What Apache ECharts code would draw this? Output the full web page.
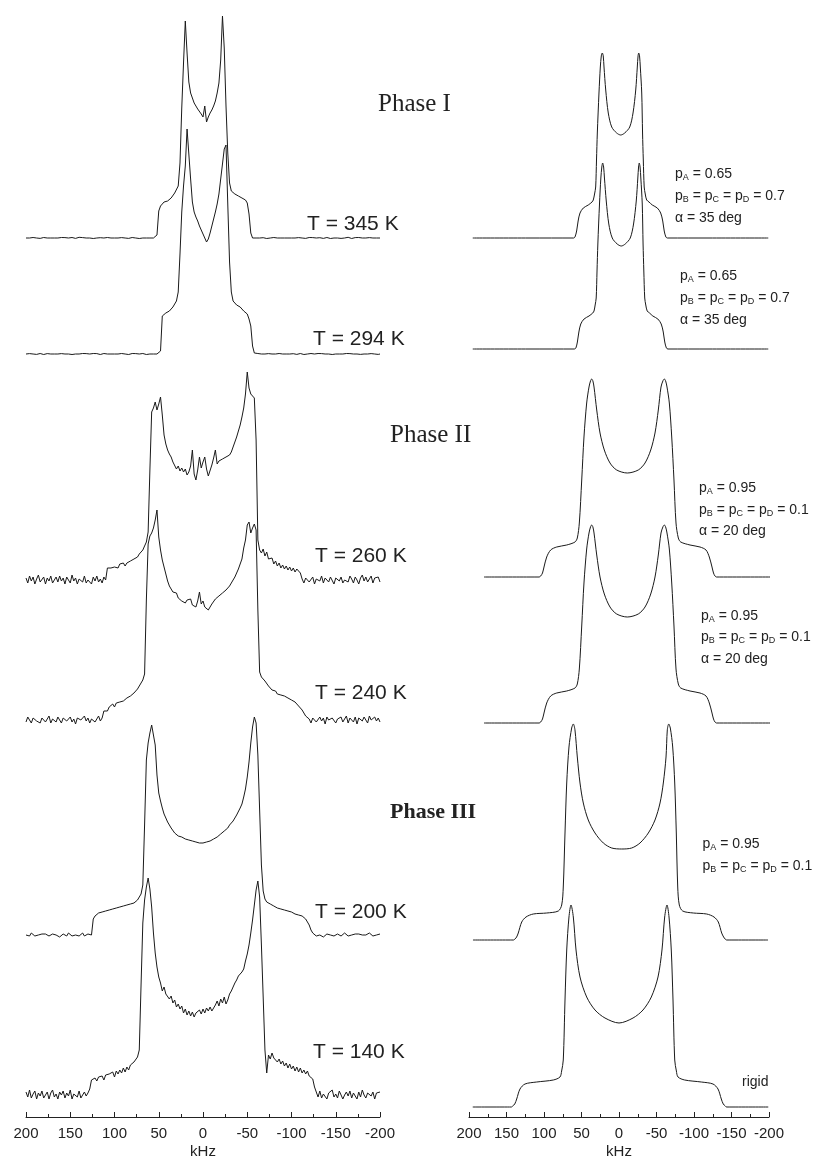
<!DOCTYPE html>
<html>
<head>
<meta charset="utf-8">
<title>2H NMR spectra</title>
<script src="https://cdn.jsdelivr.net/npm/echarts/dist/echarts.min.js"></script>
<style>
html,body{margin:0;padding:0;background:#ffffff;}
#chart{width:831px;height:1160px;}
</style>
</head>
<body>
<div id="chart"></div>
<script>
// ---------- DATA ----------
// frequency grid (kHz) of the experimental spectra
const freqGrid = [
200,198,196,194,192,190,188,186,184,182,
180,178,176,174,172,170,168,166,164,162,
160,158,156,154,152,150,148,146,144,142,
140,138,136,134,132,130,128,126,124,122,
120,118,116,114,112,110,108,106,104,102,
100,98,96,94,92,90,88,86,84,82,
80,78,76,74,72,70,68,66,64,62,
60,58,56,54,52,50,48,46,44,42,
40,38,36,34,32,30,28,26,24,22,
20,18,16,14,12,10,8,6,4,2,
0,
-2,-4,-6,-8,-10,-12,-14,-16,-18,-20,
-22,-24,-26,-28,-30,-32,-34,-36,-38,-40,
-42,-44,-46,-48,-50,-52,-54,-56,-58,-60,
-62,-64,-66,-68,-70,-72,-74,-76,-78,-80,
-82,-84,-86,-88,-90,-92,-94,-96,-98,-100,
-102,-104,-106,-108,-110,-112,-114,-116,-118,-120,
-122,-124,-126,-128,-130,-132,-134,-136,-138,-140,
-142,-144,-146,-148,-150,-152,-154,-156,-158,-160,
-162,-164,-166,-168,-170,-172,-174,-176,-178,-180,
-182,-184,-186,-188,-190,-192,-194,-196,-198,-200
];

// experimental intensities (a.u.) on freqGrid
const exp345 = [
0,0.5,0,-0.5,0.5,0,0,0.6,-0.4,0, 0.5,0.3,0,-0.5,0,0.4,0,0.7,0,-0.4, 0.5,0,0.4,-0.5,0,0,0.5,0,-0.4,0.5, 0.7,0,0.4,-0.5,0,0.5,0,0,-0.5,0.4, 0,0.5,0.3,-0.5,0,0,0.5,0.7,0,-0.4, 0,0.5,0,-0.5,0.4,0,0,0.5,-0.4,0, 0.5,0,0,0.4,-0.5,0.5,0,-0.4,0,0.5, 0,0.4,0,-0.5,
3,27,32,34,36,35,37,39,40,42, 45,47,52,75,130,175,217,185,156,145, 140,135,132,129,127,124,121,132,116,121, 125,128,132,137,145,155,178,222,190,132, 85,55,47,45,44,43,42,41,40,39, 38,35,24,5,0,
0.5,0,-0.4,0,0.5,0.3,0,-0.5,0.4,0, 0,0.5,-0.4,0,0.5,0,0.7,0,-0.5,0, 0.4,0,0.5,0,-0.5,0.4,0,0,0.5,-0.4, 0,0.5,0,0.4,-0.5,0,0.5,0.3,0,-0.4, 0,0.5,0,-0.5,0.4,0,0.5,0,0,-0.4, 0.5,0,0.4,0.7,0,-0.5,0,0.4,0,0.5, -0.4,0,0.5,0,0,0.4,-0.5,0,0.5,0, 0.4,0
];
const exp294 = [
0,-0.5,0.4,0,0,0.5,-0.4,0,0.5,0, -0.5,0,0.4,0.5,0,-0.4,0,0.5,0,0, 0.4,-0.5,0,0.5,0,0.4,-0.5,0,0,0.5, 0,-0.4,0.5,0,0.4,0,0,-0.5,0.5,0, 0.4,0,-0.5,0,0.5,0.3,0,-0.4,0,0.5, 0,0.4,0,-0.5,0.5,0,0,0.4,-0.5,0, 0.5,0,0.4,-0.4,0,0,0.5,0,-0.5,0.4, 0,0.5,0,-0.4,0,0.5,
3,38,40,41,42,43,45,47,49,53, 62,100,142,168,188,225,200,175,152,142, 137,133,128,124,120,116,112,115,121,128, 135,142,150,160,175,190,205,209,150,92, 62,53,51,49,48,47,45,43,42,40, 35,28,8,1,
0,0.5,-0.4,0,0.5,0,0,0.4,-0.5,0, 0.5,0,-0.4,0.5,0,0,0.4,0,-0.5,0, 0.5,0.3,0,-0.4,0,0.5,0,-0.5,0.4,0, 0,0.5,-0.4,0,0,0.5,0,0.4,-0.5,0, 0.4,0,0,-0.5,0.5,0,0.4,0,-0.4,0, 0,0.5,0,0.4,-0.5,0,0.5,0,0,-0.4, 0.5,0,0.4,0,-0.5,0.4,0,0,0.5,-0.4, 0
];
const exp260 = [
2,-3,4,-1,3,-4,1,5,-2,0, 3,-4,2,-1,4,-3,0,3,-2,4, -1,2,-4,3,0,-3,5,-1,2,-4, 1,3,-2,4,-3,0,2,-4,3,-1, 4,-2,1,-3,3,0,
12,13,12,14,13,15,12,16,14,17, 14,17,15,19,17,21,19,23,26,28, 30,34,38,48,110,168,172,178,170,176, 183,165,145,136,130,126,123,118,116,111, 114,109,112,108,111,105,108,114,130,106, 100,110,123,112,118,123,111,104,102,115, 122,130,116,119,117,121,119,123,121,125, 128,133,138,143,149,155,163,172,186,208, 192,186,184,182,140,40,30,27,31,24, 28,21,19,22,16,19,14,17,12,15, 11,14,10,13,9,12,8,11,9,7, 1,
-3,2,4,-2,0,3,-4,1,3,-1, 4,-3,2,0,-2,3,1,-4,2,4, -1,3,-3,0,2,-2,4,1,-3,3, 0,-4,2,5,-1,3,-2,1,4,-3, 2,0,3,-2
];
const exp240 = [
-2,3,0,-3,2,4,-1,1,-3,2, 3,-2,0,4,-3,1,2,-2,3,0, -3,2,4,-1,0,3,-2,1,-4,2, 3,0,-2,4,-1,2,-3,1,3,-2, 0,4,-1,2,
9,11,9,13,12,16,13,17,15,18, 16,19,18,22,20,24,23,27,26,31, 32,37,40,46,120,176,184,187,192,200, 210,183,170,160,153,146,139,134,131,128, 126,127,122,124,119,121,117,120,118,121, 115,117,113,119,128,116,119,113,115,110, 111,116,118,121,119,124,123,127,126,130, 131,134,137,140,143,147,151,156,161,172, 180,195,198,187,192,196,190,110,48,43, 45,39,37,34,32,30,28,29,26,27, 25,26,24,25,22,23,20,21,18,17, 14,13,10,8,4,2,
1,-3,2,4,-2,0,3,-1,2,-4, 3,0,-2,2,4,-3,1,-1,3,-2, 0,4,-3,2,1,-2,3,-4,2,0, -1,3,2,-3,4,0,-2,3,-1,2, -2
];
const exp200 = [
0,1,-1,2,0,-1,1,0,-2,1, 0,1,2,-1,0,1,-1,0,1,-2, 0,1,0,-1,2,0,-1,1,0,1, -1,0,2,-1,0,1,-1,0,
16,19,20,22,21,23,22,24,23,25, 24,26,25,27,26,28,27,29,28,30, 29,31,30,32,33,35,37,41,50,110, 175,192,202,210,212,190,160,142,134,127, 121,117,113,111,107,105,102,101,99,98, 98,96,96,94,95,93,94,92,93,91, 92,91,92,91,93,92,94,95,96,98, 98,100,101,103,104,106,107,110,111,114, 116,120,122,127,131,138,146,158,173,192, 208,218,212,180,125,70,44,36,33,32, 31,29,29,27,27,25,26,24,25,23, 24,22,23,21,21,20,20,18,19,17, 16,14,10,5,2,
0,-1,1,0,1,-2,0,1,-1,0, 2,-1,0,1,0,-1,1,2,0,-1, 1,0,-2,1,0,1,-1,0,1,0, -1,2,0,-1,1,0,-1,1
];
const exp140 = [
3,-2,5,-3,1,4,-4,2,-1,4, -3,0,3,-4,2,5,-2,1,-4,3, 0,4,-3,2,-1,5,-4,1,3,-2, 4,-3,0,3,-1,2,
6,15,13,17,14,18,16,19,15,20, 18,21,19,23,18,24,21,25,22,27, 23,28,25,30,28,33,35,38,45,110, 172,195,208,217,206,188,162,142,128,118, 112,104,108,101,103,96,99,92,95,88, 91,86,89,82,86,80,84,79,83,78, 82,80,85,81,86,82,87,84,88,84, 82,90,94,89,96,92,98,91,95,101, 104,108,112,115,119,117,123,126,134,141, 150,162,175,190,205,214,198,150,98,45, 22,40,36,42,37,39,33,36,31,34, 29,32,27,31,26,29,24,28,23,27, 22,25,21,24,19,21,16,8,3,
-2,4,-3,1,3,-4,2,0,5,-2, 1,-3,4,2,-4,0,3,-1,4,-3, 2,1,-4,3,-2,5,0,-3,2,4, -1,3,-4,2,0,3
];

// simulated spectra: [kHz, intensity]
const sim345 = [[195,0],[120,0],[60.5,0],[58.7,1],[56.5,7],[54.5,17],[52,25],[47.6,30],[41,33],[36,36],[34.3,38],[32.6,44],[31.1,51],[30,78],[28.9,105],[26.7,145],[24.9,171],[23.6,182],[22.3,185],[21,182],[20,171],[17.7,148],[14.3,125],[9.7,111],[3.1,105],[-2.3,103],[-7.6,105],[-14.3,111],[-18.7,125],[-22.3,148],[-24.4,171],[-25.4,182],[-26.3,185],[-27.4,182],[-28.4,171],[-30.3,145],[-31.4,105],[-32.4,78],[-33.6,51],[-35,44],[-36.9,38],[-40,36],[-44.4,33],[-51.1,30],[-55.6,25],[-58.3,17],[-60.3,7],[-62.5,1],[-64.5,0],[-120,0],[-199,0]];
const sim294 = [[195,0],[120,0],[59.5,0],[57.5,1],[55.5,7],[53.5,17],[51,25],[46.6,30],[40,33],[35,36],[33.3,38],[31.8,44],[30.4,51],[29.3,78],[28.2,105],[26,145],[24.2,171],[22.9,182],[21.8,186],[20.5,182],[19.4,171],[17,148],[13.6,125],[9,111],[2.4,105],[-3,103],[-8.3,105],[-15,111],[-19.4,125],[-23,148],[-25.1,171],[-26.1,182],[-27,186],[-28.1,182],[-29.1,171],[-31,145],[-32.1,105],[-33.1,78],[-34.3,51],[-35.7,44],[-37.6,38],[-40.7,36],[-45.1,33],[-51.8,30],[-56.3,25],[-59,17],[-61,7],[-63.2,1],[-65.2,0],[-120,0],[-199,0]];
const sim260 = [[180,0],[120,0],[106.5,0],[104.4,1],[102,4],[100,10],[96.4,20],[91.1,27],[83.1,30],[69.7,32],[58.7,35],[55.6,39],[52.9,54],[49.7,97],[46.7,140],[43.1,174],[40,190],[38,196],[36.4,198],[34.8,196],[33.3,190],[29.7,167],[25.3,144],[19.6,127],[12,114],[3.1,107],[-11.1,104],[-25.7,107],[-34.7,114],[-42.3,127],[-48,144],[-52.4,167],[-56,190],[-58.5,196],[-60.4,198],[-62.2,196],[-64,190],[-67.1,174],[-70.3,140],[-73.3,97],[-76,54],[-79.1,39],[-82.3,35],[-94.7,32],[-108,30],[-116,27],[-120.4,20],[-124,10],[-126,4],[-128,1],[-130,0],[-204,0]];
const sim240 = [[180,0],[120,0],[106.5,0],[104.4,1],[102,4],[100,10],[96.4,20],[91.1,27],[83.1,30],[69.7,32],[58.7,35],[55.6,39],[52.9,54],[49.7,97],[46.7,140],[43.1,174],[40,190],[38,196],[36.4,198],[34.8,196],[33.3,190],[29.7,168],[25.3,146],[19.6,129],[12,116],[3.1,109],[-11.1,106],[-25.7,109],[-34.7,116],[-42.3,129],[-48,146],[-52.4,168],[-56,190],[-58.5,196],[-60.4,198],[-62.2,196],[-64,190],[-67.1,174],[-70.3,140],[-73.3,97],[-76,54],[-79.1,39],[-82.3,35],[-94.7,32],[-108,30],[-116,27],[-120.4,20],[-124,10],[-126,4],[-128,1],[-130,0],[-204,0]];
const sim200 = [[194.7,0],[145,0],[140.7,0],[138.7,1],[136.5,3],[134.3,7],[129.7,18],[124,23],[114.3,26],[96.4,27],[80.9,29],[76.4,35],[74.3,53],[72,107],[69.7,157],[66.7,193],[63.1,212],[60.9,216],[58.7,210],[55.6,183],[52,157],[47.6,137],[41,120],[32,107],[20.9,97],[9.7,92],[-3.6,91],[-16.9,92],[-28,97],[-39.1,107],[-48,120],[-54.7,137],[-59.1,157],[-62.7,183],[-64.4,210],[-66.3,216],[-68.4,212],[-71.6,193],[-74.3,157],[-76.4,107],[-78.3,53],[-80.4,35],[-84.9,29],[-99.1,27],[-116.9,26],[-126.7,23],[-132.4,18],[-136.9,7],[-139.5,3],[-141.5,1],[-143.5,0],[-198.7,0]];
const simRigid = [[195,0],[146,0],[143.5,0],[141.7,1],[139,3],[136.4,8],[132,18],[125.3,23],[109.7,25],[87.6,27],[78.7,30],[76.5,36],[74.3,47],[72,107],[69.7,157],[66.7,190],[64,202],[60.9,190],[57.3,157],[52,130],[43.1,110],[32,97],[18.7,89],[0,84],[-18.7,89],[-32,97],[-43.1,110],[-52,130],[-57.3,157],[-60.9,190],[-64,202],[-66.7,190],[-69.7,157],[-72,107],[-74.3,47],[-76.5,36],[-78.7,30],[-87.6,27],[-109.7,25],[-125.3,23],[-132,18],[-136.4,8],[-139,3],[-141.7,1],[-143.5,0],[-199,0]];

// tick labels / texts
const kHzTicks = [200,150,100,50,0,-50,-100,-150,-200];
const tempLabels = ['T = 345 K','T = 294 K','T = 260 K','T = 240 K','T = 200 K','T = 140 K'];
const phaseNames = ['Phase I','Phase II','Phase III'];
const pA    = ['0.65','0.65','0.95','0.95','0.95'];
const pBCD  = ['0.7','0.7','0.1','0.1','0.1'];
const alphaDeg = ['35','35','20','20',null];
const rigidLabel = 'rigid';

// ---------- LAYOUT ----------
const COL = {L:{left:26,width:354}, R:{left:469,width:300}};
const SPAN = 230;
const zip = arr => freqGrid.map((f,i)=>[f, arr[i]]);
const panels = [
  {col:'L', base:238,  data:zip(exp345), smooth:false},
  {col:'L', base:354,  data:zip(exp294), smooth:false},
  {col:'L', base:580,  data:zip(exp260), smooth:false},
  {col:'L', base:720,  data:zip(exp240), smooth:false},
  {col:'L', base:935,  data:zip(exp200), smooth:false},
  {col:'L', base:1095, data:zip(exp140), smooth:false},
  {col:'R', base:238,  data:sim345, smooth:0.3},
  {col:'R', base:349,  data:sim294, smooth:0.3},
  {col:'R', base:577,  data:sim260, smooth:0.3},
  {col:'R', base:723,  data:sim240, smooth:0.3},
  {col:'R', base:940,  data:sim200, smooth:0.3},
  {col:'R', base:1107, data:simRigid, smooth:0.3}
];
const tempPos  = [[307,224],[313,339],[315,556],[315,693],[315,912],[313,1052]];
const phasePos = [[378,104,25,'normal'],[390,435,25,'normal'],[390,812,22,'bold']];
const paramPos = [
  {x:675, ys:[174.5,196,218]},
  {x:680, ys:[276.5,298,320]},
  {x:699, ys:[488,510.5,531.5]},
  {x:701, ys:[616,637.5,659]},
  {x:702.5, ys:[844,866]}
];
const rigidPos = [742,1082.5];

const INK = '#1a1a1a';
const SANS = '"Liberation Sans", Arial, Helvetica, sans-serif';
const SERIF = '"Liberation Serif", "Times New Roman", serif';

const grids=[], xAxes=[], yAxes=[], series=[];
panels.forEach((p,i)=>{
  grids.push({left:COL[p.col].left, width:COL[p.col].width, top:p.base-SPAN, height:SPAN, containLabel:false, outerBoundsMode:'none'});
  xAxes.push({gridIndex:i, type:'value', min:kHzTicks[kHzTicks.length-1], max:kHzTicks[0], inverse:true, show:false});
  yAxes.push({gridIndex:i, type:'value', min:0, max:SPAN, show:false});
  series.push({type:'line', xAxisIndex:i, yAxisIndex:i, data:p.data, showSymbol:false, symbol:'none',
    smooth:p.smooth, clip:false, silent:true, animation:false,
    lineStyle:{color:INK, width:1}});
});
['L','R'].forEach(c=>{
  const gi = grids.length;
  grids.push({left:COL[c].left, width:COL[c].width, top:1017, height:100, containLabel:false, outerBoundsMode:'none'});
  xAxes.push({gridIndex:gi, type:'value', min:kHzTicks[kHzTicks.length-1], max:kHzTicks[0], interval:50, inverse:true,
    axisLine:{show:true, onZero:false, lineStyle:{color:'#222', width:1}},
    axisTick:{show:true, inside:true, length:5, lineStyle:{color:'#222', width:1}},
    minorTick:{show:true, splitNumber:2, length:3, lineStyle:{color:'#222', width:1}},
    splitLine:{show:false}, minorSplitLine:{show:false},
    axisLabel:{show:true, margin:9, fontSize:15, color:'#222', fontFamily:SANS, showMinLabel:true, showMaxLabel:true},
    name:'kHz', nameLocation:'middle', nameGap:27, nameTextStyle:{fontSize:15, color:'#222', fontFamily:SANS}
  });
  yAxes.push({gridIndex:gi, type:'value', min:0, max:1, show:false});
});

const graphics = [];
tempLabels.forEach((t,i)=>{
  graphics.push({type:'text', x:tempPos[i][0], y:tempPos[i][1], silent:true,
    style:{text:t, fontSize:21, fontFamily:SANS, fill:'#222', align:'left', verticalAlign:'middle'}});
});
phaseNames.forEach((t,i)=>{
  const p = phasePos[i];
  graphics.push({type:'text', x:p[0], y:p[1], silent:true,
    style:{text:t, fontSize:p[2], fontWeight:p[3], fontFamily:SERIF, fill:'#222', align:'left', verticalAlign:'middle'}});
});
const rich = {
  m:{fontSize:14, fontFamily:SANS, fill:'#222', lineHeight:16},
  s:{fontSize:9, fontFamily:SANS, fill:'#222', lineHeight:6, verticalAlign:'bottom'}
};
paramPos.forEach((b,i)=>{
  const lines = [
    '{m|p}{s|A}{m| = '+pA[i]+'}',
    '{m|p}{s|B}{m| = p}{s|C}{m| = p}{s|D}{m| = '+pBCD[i]+'}'
  ];
  if (alphaDeg[i] !== null) lines.push('{m|\u03B1 = '+alphaDeg[i]+' deg}');
  lines.forEach((ln,k)=>{
    graphics.push({type:'text', x:b.x, y:b.ys[k], silent:true,
      style:{text:ln, rich:rich, fontSize:14, fontFamily:SANS, fill:'#222', align:'left', verticalAlign:'middle'}});
  });
});
graphics.push({type:'text', x:rigidPos[0], y:rigidPos[1], silent:true,
  style:{text:rigidLabel, fontSize:14, fontFamily:SANS, fill:'#222', align:'left', verticalAlign:'middle'}});

// sanity check of the experimental arrays
[exp345,exp294,exp260,exp240,exp200,exp140].forEach((a,i)=>{
  if (a.length !== freqGrid.length) {
    graphics.push({type:'text', x:10, y:20+i*16, style:{text:'len '+i+' = '+a.length, fill:'red', fontSize:14}});
  }
});

const chart = echarts.init(document.getElementById('chart'), null, {renderer:'canvas'});
chart.setOption({
  backgroundColor:'#ffffff',
  animation:false,
  grid:grids, xAxis:xAxes, yAxis:yAxes, series:series,
  graphic:{elements:graphics}
});
</script>
</body>
</html>
